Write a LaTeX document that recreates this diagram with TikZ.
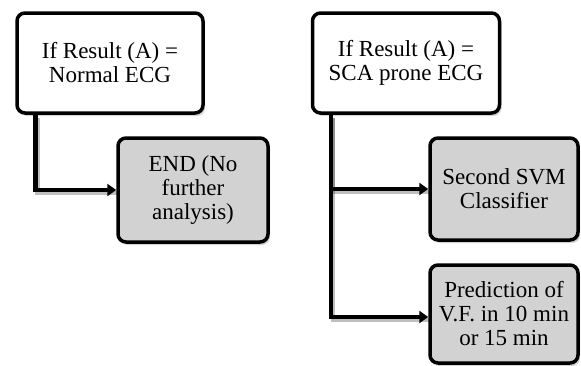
\documentclass[tikz,border=0pt]{standalone}
\usepackage{fontspec}
\setmainfont{Liberation Serif}
\usetikzlibrary{shadows, positioning, calc, arrows.meta}
\definecolor{endgray}{RGB}{210, 210, 210}
\tikzset{
  result/.style={draw=black, line width=3.5pt, rounded corners=8pt, fill=white, align=center,
    font=\fontsize{23}{24}\selectfont, inner sep=0pt,
    drop shadow={shadow xshift=2pt, shadow yshift=-3pt, opacity=0.35}},
  outcome/.style={result, fill=endgray},
  flow/.style={line width=4.5pt, -{Triangle[length=9pt, width=12pt]},
    preaction={draw, black, opacity=0.25, line width=4.5pt, -, transform canvas={shift={(2pt,-3pt)}}}}
}

\begin{document}
\begin{tikzpicture}[x=1pt, y=-1pt]
  \useasboundingbox (0,0) rectangle (581,365);

  % left branch
  \node[result, minimum width=186pt, minimum height=100pt] (normal) at (110,63) {If Result (A) =\\Normal ECG};
  \node[outcome, minimum width=150pt, minimum height=104pt] (stop) at (193,190) {END (No\\further\\analysis)};
  \coordinate (nfork) at ($(normal.south west)+(20,0)$);
  \draw[flow] (nfork) |- (stop.west);

  % right branch
  \node[result, minimum width=187pt, minimum height=100pt] (prone) at (406,63) {If Result (A) =\\SCA prone ECG};
  \node[outcome, minimum width=148pt, minimum height=102pt] (svm) at (504,189) {Second SVM\\Classifier};
  \node[outcome, minimum width=148pt, minimum height=98pt] (vf) at (504,314) {Prediction of\\V.F. in 10 min\\or 15 min};
  \coordinate (pfork) at ($(prone.south west)+(20,0)$);
  \draw[flow] (pfork) |- (svm.west);
  \draw[flow] (pfork) |- ($(vf.west)+(0,3)$);
\end{tikzpicture}
\end{document}
